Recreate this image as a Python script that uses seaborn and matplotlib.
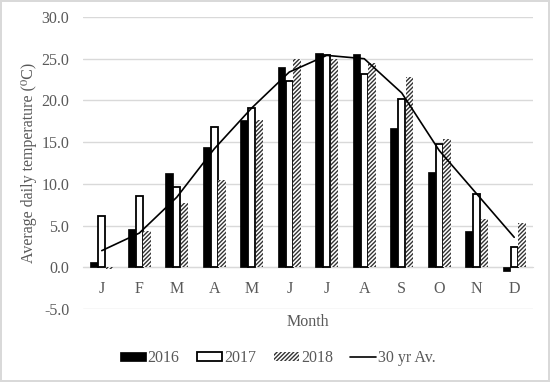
import matplotlib
matplotlib.use("Agg")
import matplotlib.pyplot as plt
from matplotlib.patches import Patch
from matplotlib.lines import Line2D
import seaborn as sns
import pandas as pd
import numpy as np

months = ["Jan", "Feb", "Mar", "Apr", "May", "Jun", "Jul", "Aug", "Sep", "Oct", "Nov", "Dec"]
month_labels = ["J", "F", "M", "A", "M", "J", "J", "A", "S", "O", "N", "D"]
years = ["2016", "2017", "2018"]
t2016 = [0.6, 4.6, 11.3, 14.4, 17.6, 24.0, 25.7, 25.6, 16.7, 11.4, 4.3, -0.5]
t2017 = [6.1, 8.5, 9.6, 16.8, 19.1, 22.3, 25.4, 23.2, 20.2, 14.8, 8.8, 2.4]
t2018 = [-0.2, 4.4, 7.7, 10.5, 17.6, 25.0, 25.0, 24.5, 22.8, 15.4, 5.8, 5.3]
avg30 = [2.0, 4.1, 8.4, 14.2, 19.1, 23.4, 25.4, 25.0, 20.9, 14.0, 8.8, 3.6]
yticks = [-5, 0, 5, 10, 15, 20, 25, 30]

gray_text = "#595959"
grid_col = "#d9d9d9"

sns.set_style("white")
plt.rcParams["font.family"] = ["Liberation Serif", "DejaVu Serif"]
plt.rcParams["hatch.linewidth"] = 1.0

df = pd.DataFrame({
    "Month": months * 3,
    "Temp": t2016 + t2017 + t2018,
    "Year": [y for y in years for _ in months],
})

fig = plt.figure(figsize=(5.5, 3.82), dpi=100, edgecolor=grid_col, linewidth=1.5)
ax = fig.add_axes([0.151, 0.191, 0.818, 0.7645])

sns.barplot(data=df, x="Month", y="Temp", hue="Year", order=months, hue_order=years,
            palette=["black", "white", "white"], width=0.62, gap=0.08,
            errorbar=None, legend=False, ax=ax, zorder=2)

HATCH = "////////"
styles = {
    "2016": dict(facecolor="black", edgecolor="black", linewidth=0.5, hatch=None),
    "2017": dict(facecolor="white", edgecolor="black", linewidth=1.3, hatch=None),
    "2018": dict(facecolor="white", edgecolor="#333333", linewidth=0, hatch=HATCH),
}
for cont, yr in zip(ax.containers, years):
    for p in cont:
        st = styles[yr]
        p.set_facecolor(st["facecolor"])
        p.set_edgecolor(st["edgecolor"])
        p.set_linewidth(st["linewidth"])
        if st["hatch"]:
            p.set_hatch(st["hatch"])

sns.pointplot(x=months, y=avg30, order=months, color="black", markers="",
              linewidth=1.2, errorbar=None, ax=ax, zorder=3)

ax.set_ylim(-5, 30)
ax.set_yticks(yticks)
ax.set_yticklabels([f"{v:.1f}" for v in yticks])
ax.set_xlim(-0.5, 11.5)
ax.set_xticks(range(12))
ax.set_xticklabels(month_labels)

ax.yaxis.grid(True, color=grid_col, linewidth=1.0, zorder=0)
ax.set_axisbelow(True)
for s in ["top", "right", "left"]:
    ax.spines[s].set_visible(False)
ax.spines["bottom"].set_position(("data", 0))
ax.spines["bottom"].set_color(grid_col)
ax.spines["bottom"].set_zorder(1)
ax.tick_params(axis="both", length=0, labelsize=11.5, colors=gray_text)
ax.tick_params(axis="x", pad=10)
ax.tick_params(axis="y", pad=10)

ax.set_ylabel("Average daily temperature (⁰C)", fontsize=11.5, color=gray_text)
ax.yaxis.set_label_coords(-0.103, 0.5)
ax.set_xlabel("Month", fontsize=11.5, color=gray_text, labelpad=12)

handles = [
    Patch(facecolor="black", edgecolor="black", linewidth=0.5),
    Patch(facecolor="white", edgecolor="black", linewidth=1.3),
    Patch(facecolor="white", edgecolor="#333333", linewidth=0, hatch=HATCH),
    Line2D([0], [0], color="black", linewidth=1.2),
]
leg = fig.legend(handles, years + ["30 yr Av."], loc="center", bbox_to_anchor=(0.505, 1 - 358 / 382),
                 ncol=4, frameon=False, fontsize=11.5, handlelength=1.6, handleheight=0.45,
                 handletextpad=0.1, columnspacing=1.1, labelcolor=gray_text)

fig.savefig("out.png", dpi=100, edgecolor=fig.get_edgecolor())
